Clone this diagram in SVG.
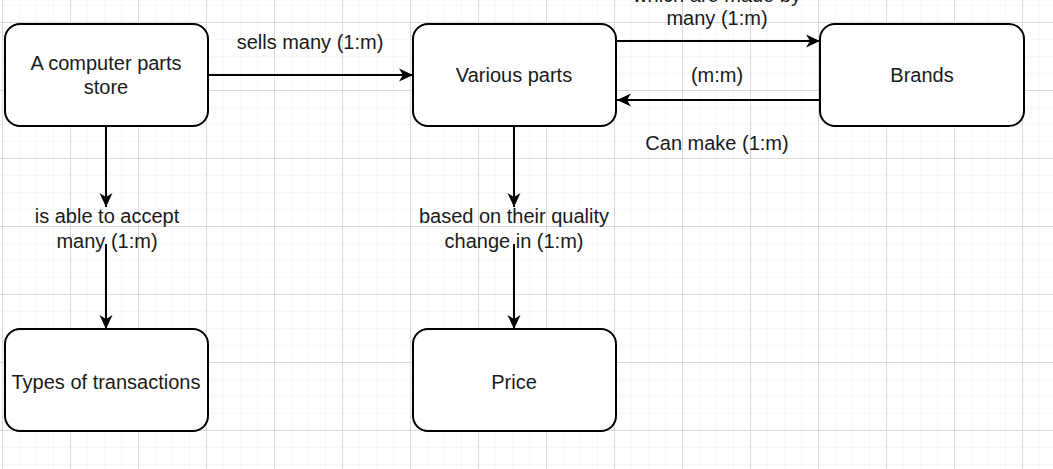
<svg xmlns="http://www.w3.org/2000/svg" width="1053" height="469" viewBox="0 0 1053 469">
  <defs>
    <pattern id="minor" x="2" y="5" width="17" height="17" patternUnits="userSpaceOnUse">
      <path d="M0,0 V17 M0,0 H17" fill="none" stroke="#f1f1f1" stroke-width="1"/>
    </pattern>
    <pattern id="major" x="2" y="22" width="68" height="68" patternUnits="userSpaceOnUse">
      <path d="M0.5,0 V68 M0,0.5 H68" fill="none" stroke="#d9d9d9" stroke-width="1"/>
    </pattern>
    <marker id="arrow" markerUnits="userSpaceOnUse" markerWidth="16" markerHeight="14" refX="14" refY="7" orient="auto">
      <path d="M0,0.5 L14,7 L0,13.5 L4,7 Z" fill="#000"/>
    </marker>
    <style>
      .node rect { fill: #ffffff; stroke: #000000; stroke-width: 2; }
      .edge { fill: none; stroke: #000000; stroke-width: 2; marker-end: url(#arrow); }
      text { font-family: "Liberation Sans", Arial, sans-serif; font-size: 20px; fill: #1a1a1a; text-anchor: middle; }
    </style>
  </defs>

  <rect width="1053" height="469" fill="#ffffff"/>
  <rect width="1053" height="469" fill="url(#minor)"/>
  <rect width="1053" height="469" fill="url(#major)"/>

  <g id="connectors">
    <line class="edge" x1="208" y1="75" x2="413" y2="75"/>
    <line class="edge" x1="617" y1="41" x2="820" y2="41"/>
    <line class="edge" x1="820" y1="100" x2="617" y2="100"/>
    <line class="edge" x1="106" y1="126" x2="106" y2="207"/>
    <line class="edge" x1="106" y1="244" x2="106" y2="329"/>
    <line class="edge" x1="514" y1="126" x2="514" y2="207"/>
    <line class="edge" x1="514" y1="244" x2="514" y2="329"/>
  </g>

  <g id="edge-labels">
    <text x="717" y="2">which are made by</text>
    <text x="310" y="49">sells many (1:m)</text>
    <text x="717" y="25">many (1:m)</text>
    <text x="717" y="82">(m:m)</text>
    <text x="717" y="150">Can make (1:m)</text>
    <text x="107" y="223">is able to accept</text>
    <text x="107" y="248">many (1:m)</text>
    <text x="514" y="223">based on their quality</text>
    <text x="514" y="248">change in (1:m)</text>
  </g>

  <g id="store" class="node">
    <rect x="5" y="24" width="203" height="102" rx="15"/>
    <text x="106" y="70">A computer parts</text>
    <text x="106" y="94">store</text>
  </g>
  <g id="parts" class="node">
    <rect x="413" y="24" width="203" height="102" rx="15"/>
    <text x="514" y="82">Various parts</text>
  </g>
  <g id="brands" class="node">
    <rect x="820" y="24" width="204" height="102" rx="15"/>
    <text x="922" y="82">Brands</text>
  </g>
  <g id="transactions" class="node">
    <rect x="5" y="329" width="203" height="102" rx="15"/>
    <text x="106" y="389">Types of transactions</text>
  </g>
  <g id="price" class="node">
    <rect x="413" y="329" width="203" height="102" rx="15"/>
    <text x="514" y="389">Price</text>
  </g>
</svg>
